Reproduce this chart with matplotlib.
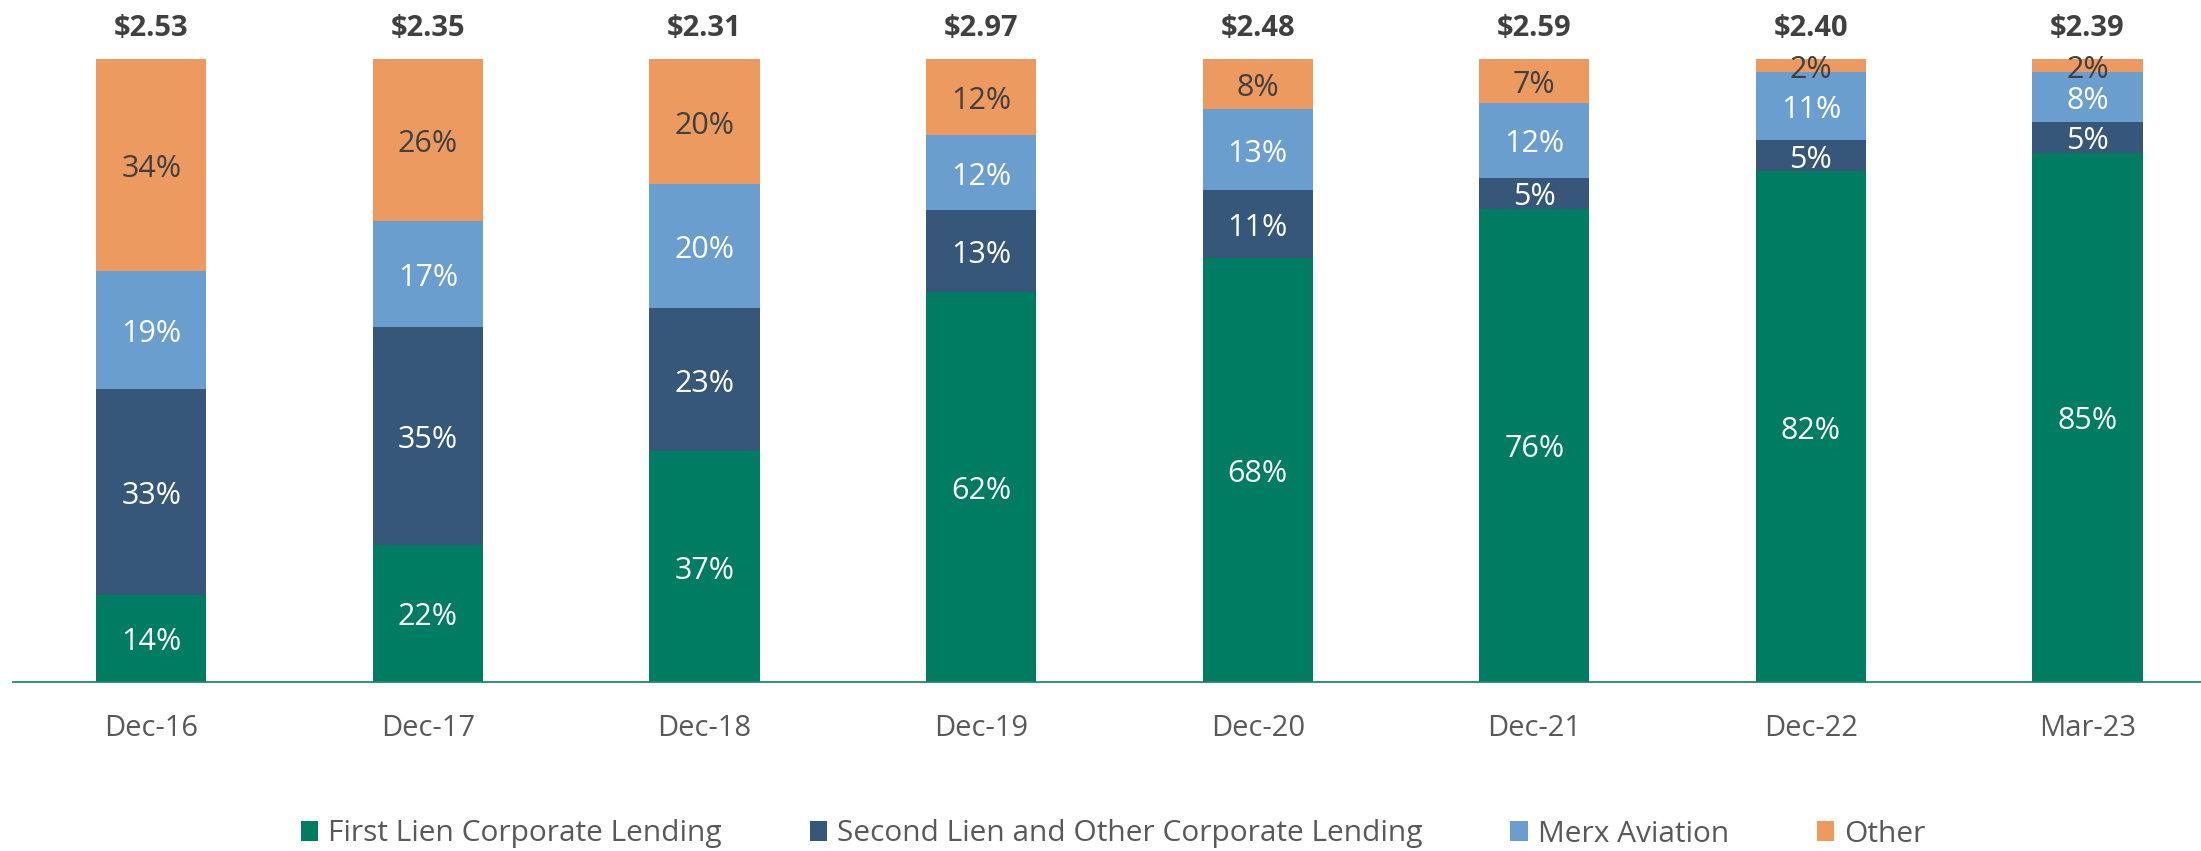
import matplotlib
matplotlib.use("Agg")
import matplotlib.pyplot as plt
import numpy as np
from matplotlib.patches import Patch

plt.rcParams['font.family'] = ['Open Sans', 'DejaVu Sans']

categories = ["Dec-16", "Dec-17", "Dec-18", "Dec-19", "Dec-20", "Dec-21", "Dec-22", "Mar-23"]
totals = ["$2.53", "$2.35", "$2.31", "$2.97", "$2.48", "$2.59", "$2.40", "$2.39"]
first_lien = [14, 22, 37, 62, 68, 76, 82, 85]
second_lien = [33, 35, 23, 13, 11, 5, 5, 5]
merx = [19, 17, 20, 12, 13, 12, 11, 8]
other = [34, 26, 20, 12, 8, 7, 2, 2]

series_names = ["First Lien Corporate Lending", "Second Lien and Other Corporate Lending",
                "Merx Aviation", "Other"]
colors = ["#007C63", "#36577A", "#699ECF", "#EC9A5F"]
label_colors = ["white", "white", "white", "#404040"]

data = np.array([first_lien, second_lien, merx, other], dtype=float)
shares = data / data.sum(axis=0) * 100

fig = plt.figure(figsize=(22.01, 8.51), dpi=100)
left = 13 / 2201
ax = fig.add_axes([left, 1 - 681.7 / 851, 1 - left, (681.7 - 59.3) / 851])

x = np.arange(len(categories))
width = 0.398
bottom = np.zeros(len(categories))
for i in range(4):
    ax.bar(x, shares[i], width, bottom=bottom, color=colors[i], edgecolor='none', zorder=2)
    for j in range(len(categories)):
        ax.annotate(f"{int(data[i][j])}%", xy=(x[j], bottom[j] + shares[i][j] / 2),
                    xytext=(0, -3), textcoords='offset points',
                    ha='center', va='center', fontsize=22, color=label_colors[i], zorder=3)
    bottom += shares[i]

for j in range(len(categories)):
    ax.annotate(totals[j], xy=(x[j], 100), xytext=(0, 22), textcoords='offset points',
                ha='center', va='center', fontsize=21, fontweight='bold',
                color='#404040', annotation_clip=False)

ax.set_xlim(-0.5, (2201 - 13) / 276.6 - 0.5)
ax.set_ylim(0, 100)
for s in ['top', 'right', 'left']:
    ax.spines[s].set_visible(False)
ax.spines['bottom'].set_color('#1E8A6E')
ax.spines['bottom'].set_linewidth(1.3)
ax.set_yticks([])
ax.set_xticks(x)
ax.set_xticklabels(categories, fontsize=21, color='#595959')
ax.tick_params(axis='x', length=0, pad=23)

handles = [Patch(facecolor=c, edgecolor='none') for c in colors]
fig.legend(handles, series_names, loc='center', bbox_to_anchor=(0.5057, 1 - 834 / 851),
           ncol=4, frameon=False, fontsize=21.5, labelcolor='#595959',
           handlelength=0.58, handleheight=0.64, handletextpad=0.33, columnspacing=2.95)

fig.savefig("out.png", dpi=100)
